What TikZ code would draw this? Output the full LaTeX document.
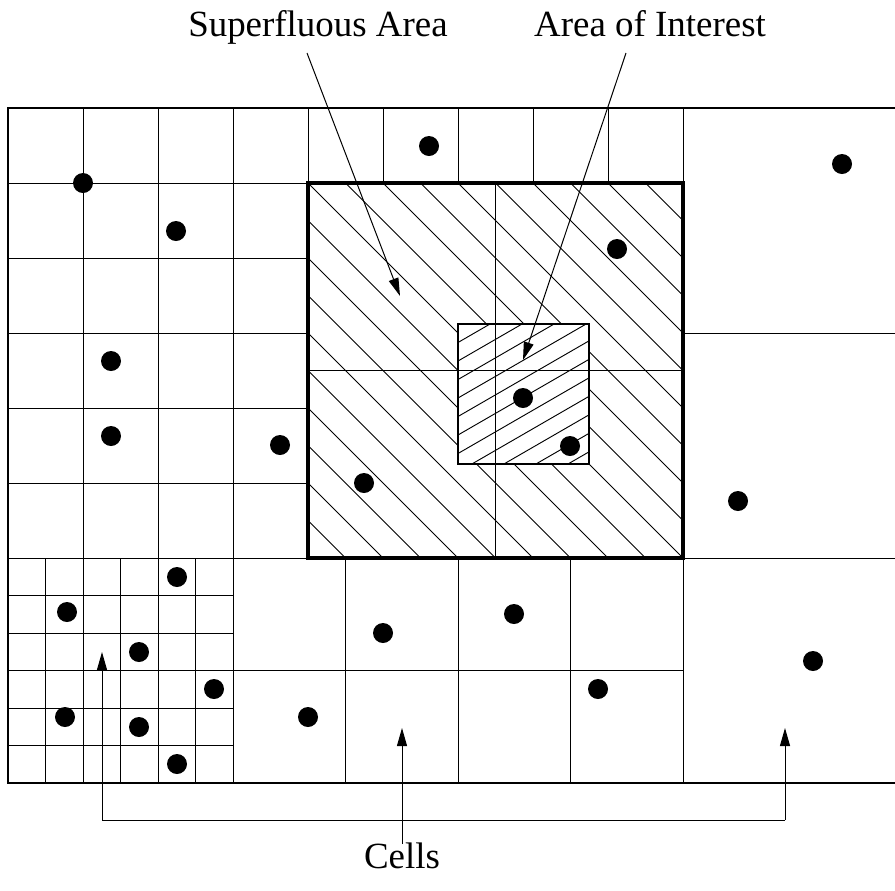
\documentclass[tikz,border=0pt]{standalone}
\usepackage{fontspec}
\setmainfont{Liberation Serif}
\usetikzlibrary{arrows.meta}
\begin{document}
\begin{tikzpicture}[x=0.75pt,y=-0.75pt,
  gridline/.style={line width=0.75pt,black},
  frameline/.style={line width=1.1pt,black},
  hatchline/.style={line width=0.7pt,black},
  thickborder/.style={line width=3pt,black},
  innerborder/.style={line width=1.4pt,black},
  dot/.style={circle,fill=black,minimum size=15pt,inner sep=0pt},
  label/.style={font=\fontsize{27.7}{33}\selectfont,inner sep=0pt,anchor=base},
  pointer/.style={line width=0.75pt,-{Triangle[length=13.5pt,width=7.5pt]}},
  bracket/.style={line width=0.75pt}
]
\useasboundingbox (0,0) rectangle (895,890);

% ---- hatching of the superfluous area (45 degrees)
\begin{scope}
  \clip (308,183) rectangle (683,558);
  \foreach \k in {-11,...,11}
    \draw[hatchline] ({308+37.5*\k},183) ++(-420,-420) -- ++(840,840);
\end{scope}

% ---- area of interest (white + 30 degree hatching)
\fill[white] (458,324) rectangle (589,464);
\begin{scope}
  \clip (458,324) rectangle (589,464);
  \foreach \j in {-1,...,13}
    \draw[hatchline] (458,{324+18.5*\j}) -- ++(200,-115.5);
\end{scope}

% ---- grid lines
% long verticals on the left
\foreach \x in {83,158,233}
  \draw[gridline] (\x,108) -- (\x,783);
% fine verticals bottom-left
\foreach \x in {45.5,120.5,195.5}
  \draw[gridline] (\x,558) -- (\x,783);
% top-left horizontals
\foreach \y in {183,258,333,408,483}
  \draw[gridline] (8,\y) -- (308,\y);
% fine horizontals bottom-left
\foreach \y in {595.5,633,670.5,708,745.5}
  \draw[gridline] (8,\y) -- (233,\y);
% top row across the middle
\draw[gridline] (308,183) -- (683,183);
\foreach \x in {308,383,458,533,608}
  \draw[gridline] (\x,108) -- (\x,183);
\draw[gridline] (308,183) -- (308,558);
\draw[gridline] (683,108) -- (683,783);
% bottom middle block
\foreach \x in {345.5,458,570.5}
  \draw[gridline] (\x,558) -- (\x,783);
\draw[gridline] (233,670.5) -- (683,670.5);
% right column
\draw[gridline] (683,333) -- (895,333);
\draw[gridline] (8,558) -- (895,558);
% quadrant lines of the superfluous area
\draw[gridline] (495.5,183) -- (495.5,558);
\draw[gridline] (308,370.5) -- (683,370.5);

% borders
\draw[innerborder] (458,324) rectangle (589,464);
\draw[thickborder] (308,183) rectangle (683,558);
\draw[frameline] (895,108) -- (8,108) -- (8,783) -- (895,783);

% ---- points
\foreach \n/\px/\py in {1/83/183, 2/176/231, 3/429/146, 4/617/249, 5/842/164,
  6/111/361, 7/111/436, 8/280/445, 9/364/483, 10/523/398, 11/570/446,
  12/738/501, 13/177/577, 14/67/612, 15/139/652, 16/214/689, 17/65/717,
  18/139/727, 19/177/764, 20/383/633, 21/514/614, 22/308/717, 23/598/689,
  24/813/661}
  \node[dot] (p\n) at (\px,\py) {};

% ---- labels
\node[label] (sup) at (318,36) {Superfluous Area};
\node[label] (aoi) at (650,36) {Area of Interest};
\node[label] (cells) at (402,868) {Cells};

% ---- pointers
\coordinate (supstart) at (307,53);
\coordinate (suptip) at (400,296);
\coordinate (aoistart) at (626,53);
\coordinate (aoitip) at (523,360);
\draw[pointer] (supstart) -- (suptip);
\draw[pointer] (aoistart) -- (aoitip);

\coordinate (cellsfoot) at (402,844);
\coordinate (bl) at (102,820);
\coordinate (bm) at (402,820);
\coordinate (br) at (785,820);
\coordinate (tl) at (102,652);
\coordinate (tm) at (402,728);
\coordinate (tr) at (785,728);
\draw[bracket] (bl) -- (br);
\draw[pointer] (bl) -- (tl);
\draw[pointer] (cellsfoot) -- (tm);
\draw[pointer] (br) -- (tr);
\end{tikzpicture}
\end{document}
